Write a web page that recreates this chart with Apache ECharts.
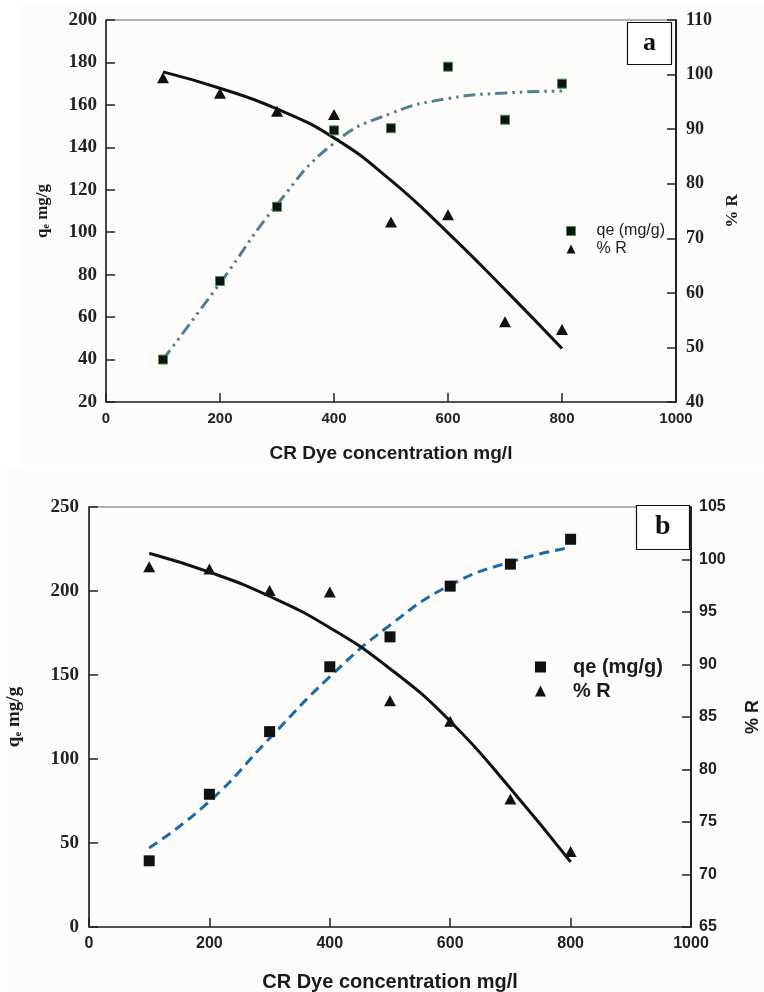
<!DOCTYPE html>
<html>
<head>
<meta charset="utf-8">
<script src="https://cdn.jsdelivr.net/npm/echarts@6/dist/echarts.min.js"></script>
<style>
  html, body { margin: 0; padding: 0; background: #ffffff; }
  #chart { width: 764px; height: 992px; }
</style>
</head>
<body>
<div id="chart"></div>
<script>
// dye concentration, mg/l
const conc = [100, 200, 300, 400, 500, 600, 700, 800];

// panel a
const qeA = [40, 77, 112, 148, 149, 178, 153, 170];
const rA = [99.4, 96.6, 93.3, 92.7, 73.0, 74.3, 54.7, 53.3];
const qeFitA = [40, 76, 113, 142, 156, 163, 165.6, 166.5];
const rFitA = [100.5, 97.5, 93.7, 88.4, 80.6, 71.0, 60.6, 49.8];

// panel b
const qeB = [39.4, 79, 116.3, 154.9, 172.7, 202.9, 216, 230.8];
const rB = [99.3, 99.1, 97.05, 96.9, 86.55, 84.6, 77.2, 72.2];
const qeFitB = [47, 74.7, 112.3, 149, 179.7, 203.5, 217.3, 225.9];
const rFitB = [100.6, 98.8, 96.5, 93.5, 89.6, 84.6, 78.2, 71.2];

const SERIF = "'Liberation Serif', 'Times New Roman', serif";
const SANS = "'Liberation Sans', Arial, sans-serif";

function pairs(ys) {
  return conc.map((x, i) => [x, ys[i]]);
}

function xAxisFor(grid, fs, titleFs, gap) {
  return {
    type: 'value', gridIndex: grid, min: 0, max: 1000, interval: 200,
    name: 'CR Dye concentration mg/l', nameLocation: 'middle', nameGap: gap,
    nameTextStyle: { fontFamily: SANS, fontWeight: 'bold', fontSize: titleFs, color: '#1a1a1a' },
    axisLine: { lineStyle: { color: '#333', width: 1.5 } },
    axisTick: { inside: true, length: 9, lineStyle: { color: '#222', width: 1.5 } },
    axisLabel: { fontFamily: SANS, fontWeight: 'bold', fontSize: fs, color: '#222', margin: 9,
      formatter: v => String(v) },
    splitLine: { show: false }
  };
}

function yAxisFor(grid, opt) {
  return {
    type: 'value', gridIndex: grid, position: opt.pos,
    min: opt.min, max: opt.max, interval: opt.interval,
    name: opt.name, nameLocation: 'middle', nameGap: opt.nameGap, nameRotate: 90,
    nameTextStyle: opt.nameStyle,
    axisLine: { show: true, onZero: false, lineStyle: { color: '#222', width: opt.lineW } },
    axisTick: { show: true, inside: true, length: 9, lineStyle: { color: '#222', width: 1.5 } },
    axisLabel: { fontFamily: opt.font, fontWeight: 'bold', fontSize: opt.fs, color: '#222', margin: opt.margin },
    splitLine: { show: false }
  };
}

const qeName = '{q|q}{e|e}{m| mg/g}';
function qeStyle(fs) {
  return {
    rich: {
      q: { fontFamily: SERIF, fontWeight: 'bold', fontSize: fs, color: '#1a1a1a', lineHeight: fs, verticalAlign: 'bottom' },
      e: { fontFamily: SERIF, fontWeight: 'bold', fontSize: Math.round(fs * 0.6), color: '#1a1a1a', lineHeight: 4, verticalAlign: 'bottom' },
      m: { fontFamily: SERIF, fontWeight: 'bold', fontSize: fs, color: '#1a1a1a', lineHeight: fs, verticalAlign: 'bottom' }
    }
  };
}

const chart = echarts.init(document.getElementById('chart'), null, { renderer: 'canvas' });

chart.setOption({
  backgroundColor: '#ffffff',
  animation: false,
  graphic: {
    elements: [
      { type: 'rect', z: -10, shape: { x: 21, y: 6, width: 743, height: 459 }, style: { fill: '#fdfcfa' } },
      { type: 'rect', z: -10, shape: { x: 7, y: 468, width: 757, height: 524 }, style: { fill: '#fdfcfa' } }
    ]
  },
  title: [
    {
      text: 'a', left: 627, top: 22, padding: [8, 16, 9, 16],
      borderColor: '#111', borderWidth: 1.2, backgroundColor: '#fff',
      textStyle: { fontFamily: SERIF, fontWeight: 'bold', fontSize: 26, color: '#111' }
    },
    {
      text: 'b', left: 636, top: 505, padding: [8, 19, 9, 19],
      borderColor: '#111', borderWidth: 1.2, backgroundColor: '#fff',
      textStyle: { fontFamily: SERIF, fontWeight: 'bold', fontSize: 28, color: '#111' }
    }
  ],
  legend: [
    {
      left: 561, top: 218, orient: 'vertical', itemGap: 2, itemWidth: 9, itemHeight: 9,
      textStyle: { fontFamily: SANS, fontSize: 16, color: '#222', padding: [0, 0, 0, 16] },
      data: [
        { name: 'qe (mg/g)', icon: 'rect', itemStyle: { color: '#111', borderColor: '#3d9a4e', borderWidth: 1 } },
        { name: '% R', icon: 'triangle', itemStyle: { color: '#111' } }
      ]
    },
    {
      left: 530, top: 652, orient: 'vertical', itemGap: 4, itemWidth: 11, itemHeight: 11,
      textStyle: { fontFamily: SANS, fontWeight: 'bold', fontSize: 20, color: '#1a1a1a', padding: [0, 0, 0, 22] },
      data: [
        { name: 'qe (mg/g) ', icon: 'rect', itemStyle: { color: '#111' } },
        { name: '% R ', icon: 'triangle', itemStyle: { color: '#111' } }
      ]
    }
  ],
  grid: [
    { left: 106, top: 20, width: 570, height: 382, show: true, borderColor: '#666', borderWidth: 1,
      backgroundColor: 'transparent', outerBoundsMode: 'none' },
    { left: 89, top: 507, width: 602, height: 420, show: true, borderColor: '#666', borderWidth: 1,
      backgroundColor: 'transparent', outerBoundsMode: 'none' }
  ],
  xAxis: [xAxisFor(0, 15, 19, 42), xAxisFor(1, 16, 20, 45)],
  yAxis: [
    yAxisFor(0, { pos: 'left', min: 20, max: 200, interval: 20, name: qeName, nameGap: 55, nameStyle: qeStyle(17),
      font: SERIF, fs: 19, margin: 9, lineW: 1.5 }),
    yAxisFor(0, { pos: 'right', min: 40, max: 110, interval: 10, name: '% R', nameGap: 47,
      nameStyle: { fontFamily: SERIF, fontWeight: 'bold', fontSize: 17, color: '#1a1a1a' },
      font: SERIF, fs: 18, margin: 10, lineW: 2 }),
    yAxisFor(1, { pos: 'left', min: 0, max: 250, interval: 50, name: qeName, nameGap: 65, nameStyle: qeStyle(19),
      font: SERIF, fs: 19, margin: 10, lineW: 1.5 }),
    yAxisFor(1, { pos: 'right', min: 65, max: 105, interval: 5, name: '% R', nameGap: 53,
      nameStyle: { fontFamily: SANS, fontWeight: 'bold', fontSize: 18, color: '#1a1a1a' },
      font: SANS, fs: 16, margin: 8, lineW: 2 })
  ],
  series: [
    // panel a
    { type: 'line', xAxisIndex: 0, yAxisIndex: 0, data: pairs(qeFitA), smooth: 0.5, showSymbol: false,
      lineStyle: { color: '#4f7f93', width: 3, type: [12, 5, 2.5, 5, 2.5, 5] }, z: 2 },
    { type: 'line', xAxisIndex: 0, yAxisIndex: 1, data: pairs(rFitA), smooth: 0.5, showSymbol: false,
      lineStyle: { color: '#111', width: 3 }, z: 2 },
    { name: 'qe (mg/g)', type: 'scatter', xAxisIndex: 0, yAxisIndex: 0, data: pairs(qeA), symbol: 'rect', symbolSize: 9,
      itemStyle: { color: '#111', borderColor: '#3d9a4e', borderWidth: 1, opacity: 1 }, z: 4 },
    { name: '% R', type: 'scatter', xAxisIndex: 0, yAxisIndex: 1, data: pairs(rA), symbol: 'triangle', symbolSize: [12, 11],
      itemStyle: { color: '#111', opacity: 1 }, z: 4 },
    // panel b
    { type: 'line', xAxisIndex: 1, yAxisIndex: 2, data: pairs(qeFitB), smooth: 0.5, showSymbol: false,
      lineStyle: { color: '#1b6aa8', width: 3, type: [10, 6] }, z: 2 },
    { type: 'line', xAxisIndex: 1, yAxisIndex: 3, data: pairs(rFitB), smooth: 0.5, showSymbol: false,
      lineStyle: { color: '#111', width: 3 }, z: 2 },
    { name: 'qe (mg/g) ', type: 'scatter', xAxisIndex: 1, yAxisIndex: 2, data: pairs(qeB), symbol: 'rect', symbolSize: 11,
      itemStyle: { color: '#111', opacity: 1 }, z: 4 },
    { name: '% R ', type: 'scatter', xAxisIndex: 1, yAxisIndex: 3, data: pairs(rB), symbol: 'triangle', symbolSize: [12, 11],
      itemStyle: { color: '#111', opacity: 1 }, z: 4 }
  ]
});
</script>
</body>
</html>
